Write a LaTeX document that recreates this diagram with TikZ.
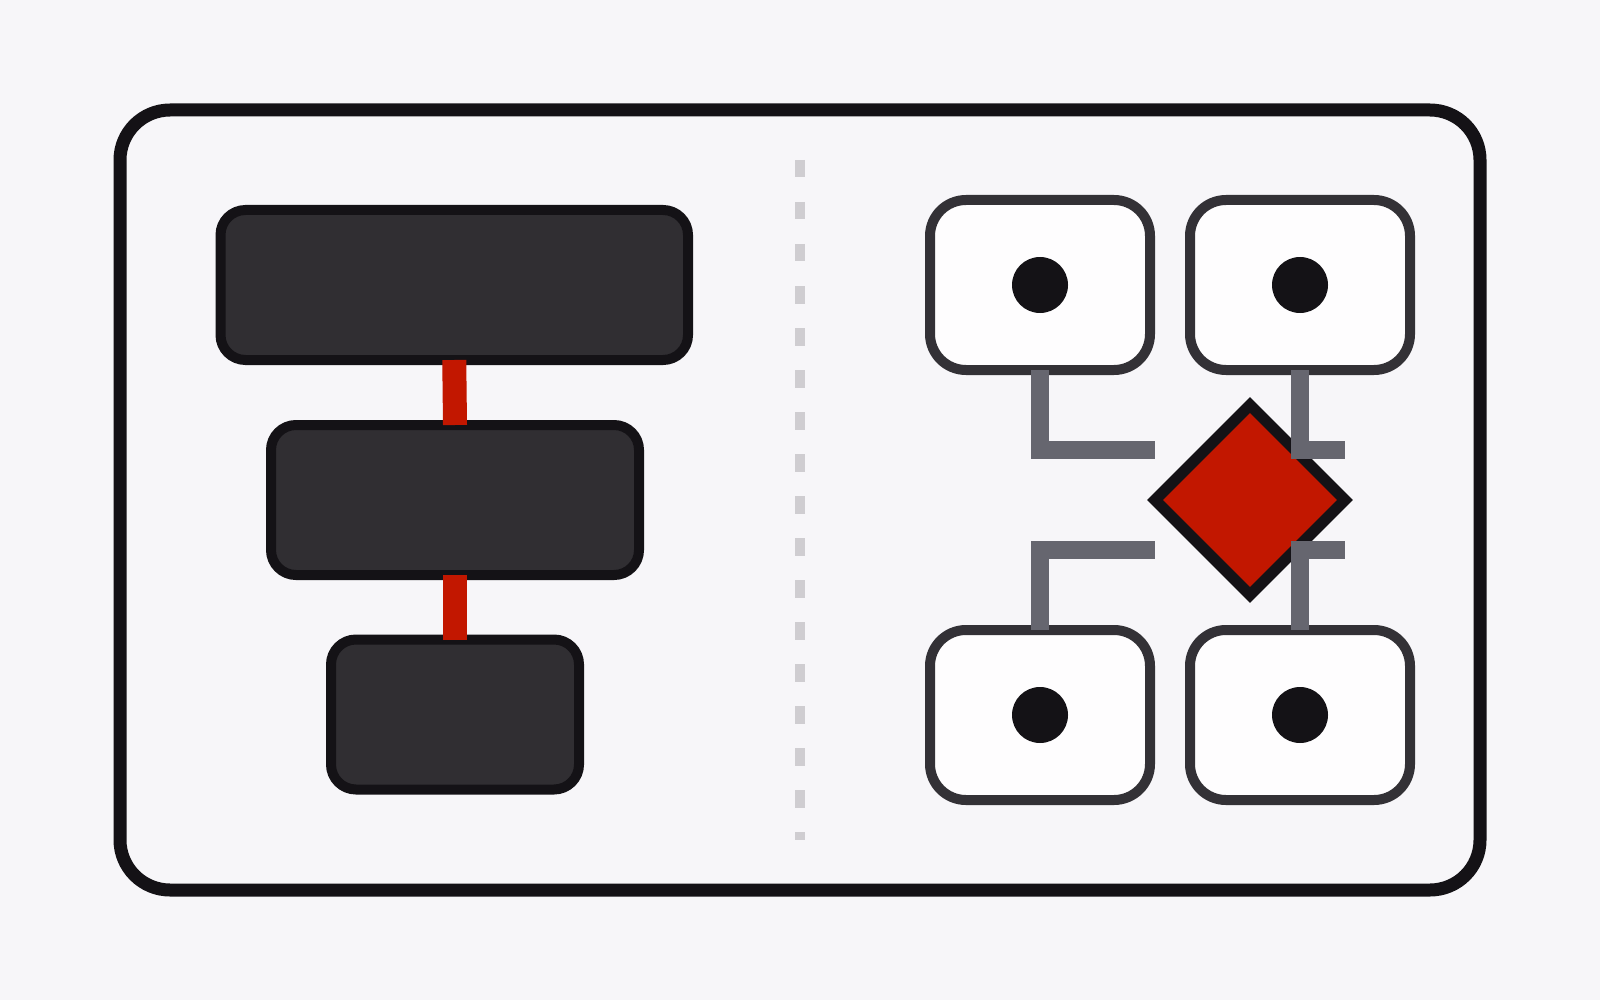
\documentclass[tikz,border=0pt]{standalone}
\usetikzlibrary{shapes.geometric}
\definecolor{bgc}{HTML}{F7F6F9}
\definecolor{ink}{HTML}{141216}
\definecolor{darkbox}{HTML}{302E32}
\definecolor{wbord}{HTML}{333136}
\definecolor{wfill}{HTML}{FEFDFE}
\definecolor{redc}{HTML}{C21700}
\definecolor{grayc}{HTML}{66666F}
\definecolor{sepc}{HTML}{CFCDD1}
\begin{document}
\begin{tikzpicture}[x=1pt,y=-1pt,
  frame/.style={draw=ink,fill=bgc,line width=13pt,rounded corners=50pt,inner sep=0pt,outer sep=0pt,minimum width=1360pt,minimum height=780pt},
  darkbox/.style={draw=ink,fill=darkbox,line width=10pt,rounded corners=25pt,inner sep=0pt,outer sep=0pt,minimum height=150pt},
  whitebox/.style={draw=wbord,fill=wfill,line width=10pt,rounded corners=36pt,inner sep=0pt,outer sep=0pt,minimum width=220pt,minimum height=170pt},
  dotnode/.style={circle,fill=ink,inner sep=0pt,minimum size=56pt},
  redlink/.style={draw=redc,line width=24pt,line cap=butt},
  graylink/.style={draw=grayc,line width=18pt,line cap=butt,line join=miter},
  sepline/.style={draw=sepc,line width=10pt,dash pattern=on 17.5pt off 24.5pt},
  gate/.style={diamond,aspect=1,draw=ink,fill=redc,line width=11pt,inner sep=0pt,outer sep=0pt,minimum width=190pt,minimum height=190pt}
]
\fill[bgc] (0,0) rectangle (1600,1000);
\useasboundingbox (0,0) rectangle (1600,1000);

\node[frame] (frame) at (800,500) {};

% left stack
\node[darkbox,minimum width=467.5pt] (b1) at (454.25,285) {};
\node[darkbox,minimum width=368pt] (b2) at (455,500) {};
\node[darkbox,minimum width=248pt] (b3) at (455,714.5) {};
\draw[redlink] (b1.south) -- (b2.north);
\draw[redlink] (b2.south) -- (b3.north);

% separator
\coordinate (sepT) at (800,160);
\coordinate (sepB) at (800,840);
\draw[sepline] (sepT) -- (sepB);

% right side
\node[whitebox] (w1) at (1040,285) {};
\node[whitebox] (w2) at (1300,285) {};
\node[whitebox] (w3) at (1040,715) {};
\node[whitebox] (w4) at (1300,715) {};
\node[dotnode] (d1) at (w1.center) {};
\node[dotnode] (d2) at (w2.center) {};
\node[dotnode] (d3) at (w3.center) {};
\node[dotnode] (d4) at (w4.center) {};

\node[gate] (g) at (1250,500) {};

\coordinate (j1) at (1155,450);
\coordinate (j2) at (1345,450);
\coordinate (j3) at (1155,550);
\coordinate (j4) at (1345,550);
\draw[graylink] (w1.south) |- (j1);
\draw[graylink] (w2.south) |- (j2);
\draw[graylink] (w3.north) |- (j3);
\draw[graylink] (w4.north) |- (j4);
\end{tikzpicture}
\end{document}
